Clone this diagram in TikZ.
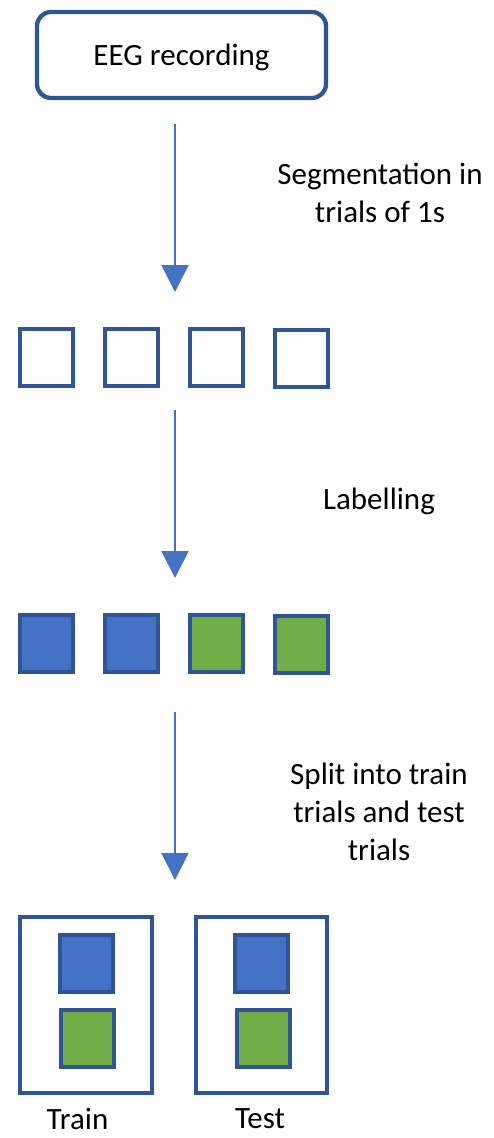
\documentclass[tikz,border=0pt]{standalone}
\usepackage{fontspec}
\setmainfont{Carlito}
\usetikzlibrary{arrows.meta,positioning}

\definecolor{edgeblue}{HTML}{2F5597}
\definecolor{fillblue}{HTML}{4472C4}
\definecolor{fillgreen}{HTML}{70AD47}

\tikzset{
  trial/.style={draw=edgeblue,line width=4.3pt,minimum width=53pt,minimum height=57pt,inner sep=0pt},
  classa/.style={trial,fill=fillblue},
  classb/.style={trial,fill=fillgreen},
  setbox/.style={draw=edgeblue,line width=4.3pt,minimum height=176pt,inner sep=0pt},
  stepnote/.style={align=center,font=\fontsize{31}{38}\selectfont},
  setname/.style={font=\fontsize{31}{38}\selectfont,anchor=base,inner sep=1pt},
  flow/.style={draw=fillblue,line width=2pt,-{Triangle[width=27pt,length=27pt]}}
}

\begin{document}
\begin{tikzpicture}[x=1pt,y=-1pt]
  \useasboundingbox (0,0) rectangle (494,1138);
  \node[draw=edgeblue,line width=4.3pt,rounded corners=14pt,minimum width=289pt,minimum height=86pt,text depth=0pt,font=\fontsize{31}{38}\selectfont] (eeg) at (181.5,55) {EEG recording};

  \node[trial] (t1) at (46.5,357.5) {};
  \node[trial] (t2) at (131.5,357.5) {};
  \node[trial] (t3) at (216.5,357.5) {};
  \node[trial] (t4) at (301.5,358.5) {};

  \node[classa] (l1) at (46.5,643.5) {};
  \node[classa] (l2) at (131.5,643.5) {};
  \node[classb] (l3) at (216.5,643.5) {};
  \node[classb] (l4) at (301.5,644.5) {};

  \node[setbox,minimum width=132pt] (train) at (86,1005) {};
  \node[setbox,minimum width=131pt] (test) at (261.5,1005) {};
  \node[classa] (traina) at (86.5,963.5) {};
  \node[classb] (trainb) at (87.5,1038.5) {};
  \node[classa] (testa) at (261.5,963.5) {};
  \node[classb] (testb) at (263.5,1038.5) {};
  \node[setname] (trainlbl) at (77.5,1129) {Train};
  \node[setname] (testlbl) at (260,1128) {Test};

  \coordinate (s1) at (175,124);
  \coordinate (e1) at (175,292);
  \coordinate (s2) at (175,410);
  \coordinate (e2) at (175,578);
  \coordinate (s3) at (175,712);
  \coordinate (e3) at (175,880);
  \draw[flow] (s1) -- (e1);
  \draw[flow] (s2) -- (e2);
  \draw[flow] (s3) -- (e3);

  \node[stepnote,anchor=base] (seg) at (380,222) {Segmentation in\\trials of 1s};
  \node[stepnote,anchor=base] (lab) at (379,509) {Labelling};
  \node[stepnote,anchor=base] (split) at (379,860) {Split into train\\trials and test\\trials};
\end{tikzpicture}
\end{document}
